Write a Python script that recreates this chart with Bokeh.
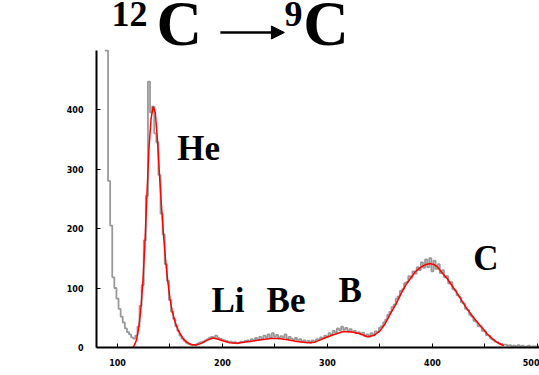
from bokeh.plotting import figure
from bokeh.models import Range1d, Arrow, NormalHead, FixedTicker
from bokeh.core.properties import value
from bokeh.embed import file_html
from bokeh.resources import INLINE

# Measured spectrum (gray histogram), bin centers every 2 units (first bins run off scale)
gray_x = list(range(88, 504, 2))
gray_y = [499, 499, 280, 205, 118, 100, 82, 65, 52, 42, 32, 26, 22, 17, 15, 20, 35,
          70, 105, 180, 255, 447, 395, 405, 360, 345, 290, 225, 190, 140, 112, 80, 60,
          48, 36, 28, 20, 15, 11, 8, 6, 5, 4, 4, 6, 8, 9, 10, 12, 14, 16, 18, 17, 20,
          16, 15, 13, 12, 11, 9, 10, 8, 9, 7, 8, 10, 9, 11, 12, 10, 14, 12, 16, 13, 18,
          15, 20, 17, 22, 16, 24, 18, 21, 15, 19, 17, 22, 14, 18, 15, 13, 16, 12, 14, 10,
          12, 9, 11, 8, 12, 10, 14, 13, 17, 15, 20, 18, 24, 21, 28, 25, 32, 29, 35, 30,
          33, 27, 31, 26, 28, 24, 26, 22, 25, 19, 22, 18, 24, 21, 27, 26, 33, 36, 42, 47,
          55, 60, 68, 72, 82, 86, 95, 98, 108, 110, 120, 117, 128, 124, 135, 130, 143, 134,
          148, 135, 150, 128, 146, 132, 140, 125, 130, 118, 120, 108, 110, 98, 96, 88, 85,
          76, 74, 65, 63, 55, 52, 45, 43, 36, 35, 28, 27, 21, 20, 15, 13, 10, 9, 7, 6, 5,
          5, 3, 4, 2, 3, 2, 4, 2, 3, 1, 2, 3, 1, 2, 2, 1, 2]

# Fit curve (red)
fit_x = [115, 118, 120, 122, 124, 126, 128, 130, 132, 134, 136, 138, 140, 142, 144, 146,
         148, 150, 152, 155, 158, 162, 166, 170, 175, 180, 185, 191, 196, 201, 207, 214,
         220, 229, 237, 246, 254, 262, 271, 281, 288, 296, 305, 315, 323, 331, 338, 344,
         350, 355, 360, 365, 370, 375, 379, 384, 389, 393, 398, 402, 405, 410, 414, 419,
         424, 429, 433, 438, 443, 448, 452, 457, 462, 468]
fit_y = [0, 12, 30, 60, 105, 170, 255, 335, 385, 405, 395, 350, 290, 235, 185, 143,
         110, 82, 62, 42, 28, 16, 9, 5, 4, 7, 12, 16, 14, 11, 8, 7,
         9, 11, 13, 15, 15, 13, 10, 8, 9, 15, 21, 27, 26, 23, 18, 20,
         28, 40, 57, 72, 90, 106, 116, 128, 135, 139, 141, 139, 135, 124, 116, 103,
         90, 76, 65, 53, 42, 32, 23, 15, 8, 3]

x_ticks = [100, 200, 300, 400, 500]
x_minor = [150, 250, 350, 450]
y_ticks = [0, 100, 200, 300, 400]
y_axis_top = 499

peak_labels = ["He", "Li", "Be", "B", "C"]
peak_label_x = [157, 189.5, 242, 310.5, 439]
peak_label_y = [335, 79, 79, 96, 150]

title_small = ["12", "9"]
title_small_x = [94.3, 259]
title_small_y = [560, 560]
title_big = ["C", "C"]
title_big_x = [137.1, 277]
title_big_y = [543, 543]

p = figure(width=539, height=375, output_backend="svg", toolbar_location=None,
           x_range=Range1d(80, 502), y_range=Range1d(0, 583.2),
           min_border_left=96, min_border_right=0, min_border_top=0,
           min_border_bottom=28)
p.outline_line_color = None
p.xgrid.visible = False
p.ygrid.visible = False
p.background_fill_color = "white"
p.border_fill_color = "white"

p.step(gray_x, gray_y, mode="center", line_color="#999999", line_width=1.8)
p.line(fit_x, fit_y, line_color="#ff0000", line_width=1.5)

for ax in (p.xaxis[0], p.yaxis[0]):
    ax.axis_line_color = "black"
    ax.axis_line_width = 2
    ax.major_tick_in = 4
    ax.major_tick_out = 0
    ax.minor_tick_in = 4
    ax.minor_tick_out = 0
    ax.major_tick_line_color = "black"
    ax.minor_tick_line_color = "black"
    ax.major_label_text_font = "DejaVu Sans"
    ax.major_label_text_font_style = "bold"
    ax.major_label_text_font_size = "8px"
    ax.major_label_text_color = "black"

p.xaxis[0].ticker = FixedTicker(ticks=x_ticks, minor_ticks=x_minor)
p.xaxis[0].major_label_standoff = 11
p.yaxis[0].ticker = FixedTicker(ticks=y_ticks, minor_ticks=[])
p.yaxis[0].major_label_standoff = 13
p.yaxis[0].bounds = (0, y_axis_top)

serif = value("Liberation Serif")
p.text(x=peak_label_x, y=peak_label_y, text=peak_labels, text_font=serif,
       text_font_style="bold", text_font_size="35px", text_color="black",
       text_baseline="alphabetic")

# Title: 12C -> 9C
p.text(x=title_small_x, y=title_small_y, text=title_small, text_font=serif,
       text_font_style="bold", text_font_size="36px", text_color="black",
       text_baseline="alphabetic")
p.text(x=title_big_x, y=title_big_y, text=title_big, text_font=serif,
       text_font_style="bold", text_font_size="63px", text_color="black",
       text_baseline="alphabetic")
p.add_layout(Arrow(x_start=198, y_start=529.4, x_end=259, y_end=529.4,
                   line_color="black", line_width=2.5,
                   end=NormalHead(size=13, fill_color="black", line_color="black")))

open("out.html", "w").write(file_html(p, INLINE))
